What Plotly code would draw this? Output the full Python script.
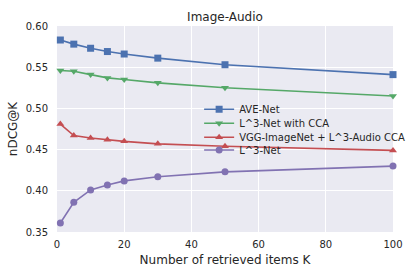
import plotly.graph_objects as go

k_values = [1, 5, 10, 15, 20, 30, 50, 100]
ave_net = [0.583, 0.578, 0.573, 0.569, 0.566, 0.561, 0.553, 0.541]
l3_cca = [0.546, 0.545, 0.541, 0.537, 0.535, 0.531, 0.525, 0.515]
vgg_l3_cca = [0.481, 0.467, 0.464, 0.462, 0.460, 0.457, 0.454, 0.449]
l3_net = [0.361, 0.386, 0.401, 0.407, 0.412, 0.417, 0.423, 0.430]

series = [
    ("AVE-Net", ave_net, "#4C72B0", "square"),
    ("L^3-Net with CCA", l3_cca, "#55A868", "triangle-down"),
    ("VGG-ImageNet + L^3-Audio CCA", vgg_l3_cca, "#C44E52", "triangle-up"),
    ("L^3-Net", l3_net, "#8172B2", "circle"),
]
legend_ids = ["legend", "legend2", "legend3", "legend4"]
legend_rows = [0.596, 0.528, 0.460, 0.398]

fig = go.Figure()
for (name, vals, color, sym), lid in zip(series, legend_ids):
    fig.add_trace(go.Scatter(
        x=k_values, y=vals, name=name, mode="lines+markers",
        line=dict(color=color, width=1.6),
        marker=dict(symbol=sym, size=7, color=color),
        cliponaxis=False, legend=lid,
    ))

txt = "#262626"
font = dict(family="DejaVu Sans", size=10, color=txt)
layout_legends = {}
for lid, ypos in zip(legend_ids, legend_rows):
    layout_legends[lid] = dict(x=0.423, y=ypos, xanchor="left", yanchor="middle",
                               bgcolor="rgba(0,0,0,0)", borderwidth=0,
                               font=dict(family="DejaVu Sans", size=10, color=txt))

fig.update_layout(
    width=415, height=277,
    margin=dict(l=57, r=22, t=26, b=45, autoexpand=False),
    paper_bgcolor="white", plot_bgcolor="#EAEAF2",
    font=font,
    title=dict(text="Image-Audio", x=0.5, xanchor="center", xref="paper",
               y=1 - 17 / 277, yanchor="middle",
               font=dict(family="DejaVu Sans", size=12, color=txt)),
    xaxis=dict(range=[0, 100], tickvals=[0, 20, 40, 60, 80, 100], showgrid=True,
               gridcolor="white", gridwidth=1, zeroline=False, showline=False,
               ticks="outside", ticklen=3, tickcolor="rgba(0,0,0,0)",
               automargin=False,
               title=dict(text="Number of retrieved items K", standoff=6)),
    yaxis=dict(range=[0.35, 0.60], tickvals=[0.35, 0.40, 0.45, 0.50, 0.55, 0.60],
               tickformat=".2f", showgrid=True, gridcolor="white", gridwidth=1,
               zeroline=False, showline=False,
               ticks="outside", ticklen=6, tickcolor="rgba(0,0,0,0)",
               automargin=False,
               title=dict(text="nDCG@K", standoff=5)),
    showlegend=True,
    **layout_legends,
)
fig.write_html("out.html", config={"displayModeBar": False},
               post_script="document.body.style.margin='0';")
